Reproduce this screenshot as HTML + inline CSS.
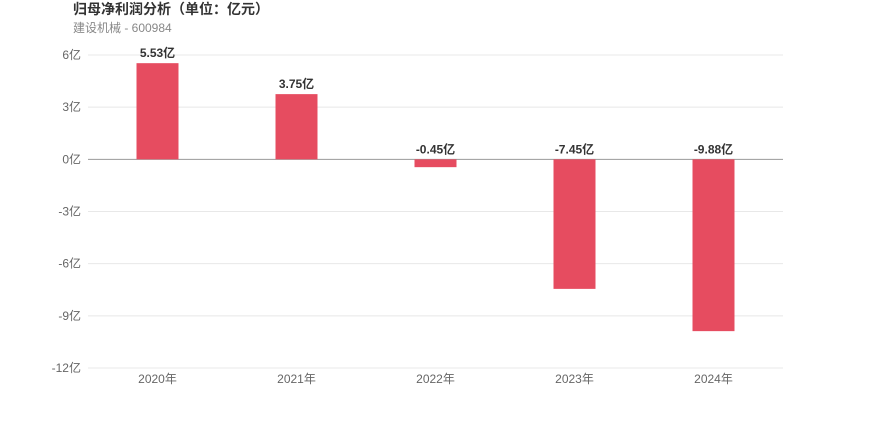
<!DOCTYPE html>
<html><head><meta charset="utf-8"><style>
body{margin:0;background:#fff;font-family:"Liberation Sans","Noto Sans CJK SC",sans-serif;}
</style></head><body>
<svg width="870" height="417" id="chart">
<text x="73" y="14" font-size="14" font-weight="bold" fill="#333">归母净利润分析（单位：亿元）</text>
<text x="73" y="32" font-size="12" fill="#888">建设机械 - 600984</text>
</svg>
<script>
const categories=["2020年","2021年","2022年","2023年","2024年"];
const values=[5.53,3.75,-0.45,-7.45,-9.88];
const ticks=[6,3,0,-3,-6,-9,-12];
const svg=document.getElementById('chart');const NS="http://www.w3.org/2000/svg";
const x0=88,x1=783,yTop=55,yBot=368,vMax=6,vMin=-12;
const y=v=>yTop+(vMax-v)/(vMax-vMin)*(yBot-yTop);
const bw=(x1-x0)/categories.length;
const xc=i=>x0+bw*(i+0.5);
function mk(t,a){const e=document.createElementNS(NS,t);for(const k in a)e.setAttribute(k,a[k]);svg.appendChild(e);return e;}
ticks.forEach(t=>{
 const l=mk('line',{x1:x0,x2:x1,y1:y(t),y2:y(t),stroke:t===0?'#999':'#e8e8e8','stroke-width':1});
 
 
 const tx=mk('text',{x:81,y:y(t)+4,'font-size':12,fill:'#666','text-anchor':'end'});
 tx.textContent=t+'亿';
 
 
});
categories.forEach((c,i)=>{
 const v=values[i];const top=Math.min(y(v),y(0)),h=Math.abs(y(v)-y(0));
 const r=mk('rect',{x:xc(i)-21,y:top,width:42,height:h,fill:'#e64c60'});
 
 
 const ly=v>=0?y(v)-6:y(0)-6;
 const lb=mk('text',{x:xc(i),y:ly,'font-size':12,'font-weight':'bold',fill:'#333','text-anchor':'middle'});
 lb.textContent=v.toFixed(2)+'亿';
 
 
 const xl=mk('text',{x:xc(i),y:383,'font-size':12,fill:'#666','text-anchor':'middle'});
 xl.textContent=c;
 
 
});
</script>
</body></html>
